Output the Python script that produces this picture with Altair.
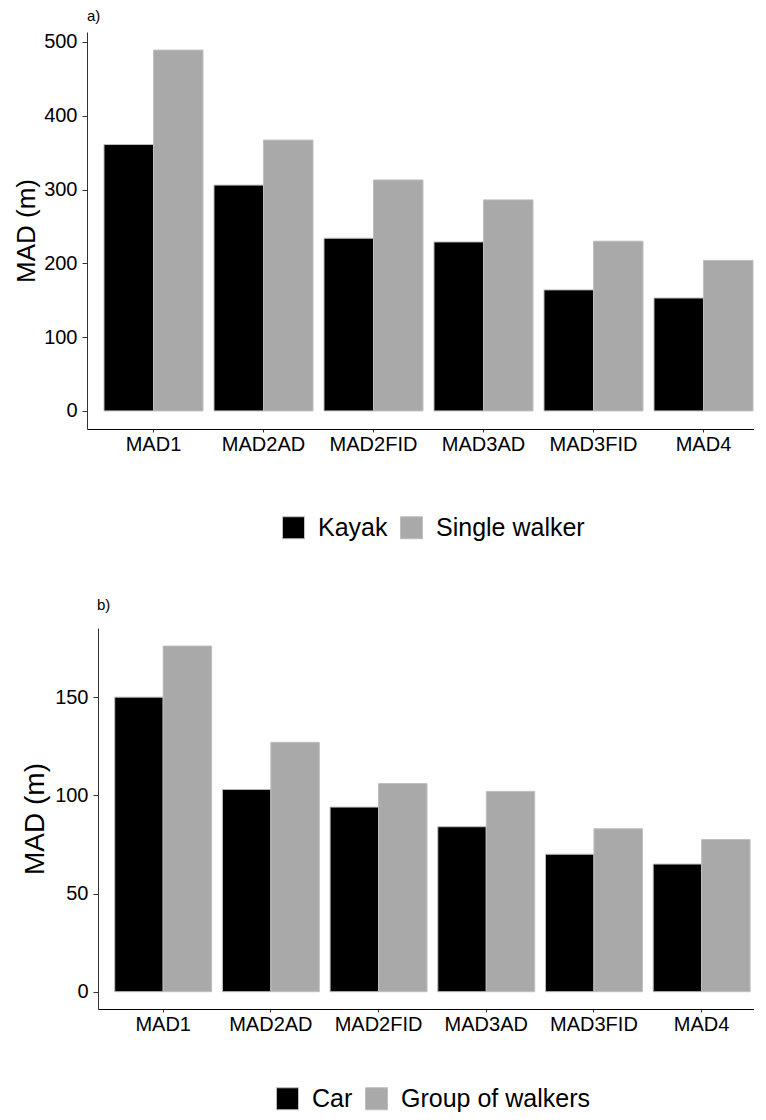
import altair as alt
import pandas as pd

FONT = "Liberation Sans"

categories = ["MAD1", "MAD2AD", "MAD2FID", "MAD3AD", "MAD3FID", "MAD4"]

# panel a
series_a = ["Kayak", "Single walker"]
kayak = [361, 306, 234, 229, 164, 153]
single_walker = [489, 367, 313, 286, 230, 204]

# panel b
series_b = ["Car", "Group of walkers"]
car = [150, 103, 94, 84, 70, 65]
group_walkers = [176, 127, 106, 102, 83, 77.5]

ticks_a = [0, 100, 200, 300, 400, 500]
ticks_b = [0, 50, 100, 150]

df_a = pd.DataFrame({
    "category": categories * 2,
    "series": [series_a[0]] * 6 + [series_a[1]] * 6,
    "value": kayak + single_walker,
})
df_b = pd.DataFrame({
    "category": categories * 2,
    "series": [series_b[0]] * 6 + [series_b[1]] * 6,
    "value": car + group_walkers,
})

FILLS = ["#000000", "#A9A9A9"]
WIDTH = 667


def panel(df, series, ticks, ydom, label, height, pad_outer, align, x_start,
          title_offset, legend_x, legend_y, title_size, title_dx, title_pad):
    return alt.Chart(df).mark_bar(stroke="#BEBEBE", strokeWidth=1).encode(
        x=alt.X("category:N", sort=categories, title=None,
                scale=alt.Scale(paddingInner=0.1, paddingOuter=pad_outer,
                                align=align, range=[x_start, WIDTH]),
                axis=alt.Axis(labelAngle=0, labelFontSize=20, labelColor="#000",
                              tickSize=3, labelPadding=2, domainColor="#000",
                              tickColor="#333", labelFont=FONT)),
        xOffset=alt.XOffset("series:N", sort=series,
                            scale=alt.Scale(paddingInner=0, paddingOuter=0)),
        y=alt.Y("value:Q", title="MAD (m)",
                scale=alt.Scale(domain=ydom, nice=False, zero=False),
                axis=alt.Axis(values=ticks, grid=False, labelFontSize=20,
                              labelColor="#000", tickSize=5, labelPadding=5,
                              domainColor="#333", tickColor="#333",
                              offset=-x_start,
                              titleFontSize=title_size, titleFontWeight="normal",
                              titleColor="#000", titlePadding=title_pad,
                              labelFont=FONT, titleFont=FONT)),
        y2=alt.datum(0),
        color=alt.Color("series:N", sort=series,
                        scale=alt.Scale(domain=series, range=FILLS),
                        legend=alt.Legend(title=None, orient="none",
                                          direction="horizontal",
                                          legendX=legend_x, legendY=legend_y,
                                          symbolType="square", symbolSize=484,
                                          symbolStrokeColor="#BEBEBE",
                                          symbolStrokeWidth=1,
                                          labelFontSize=25, labelColor="#000",
                                          labelFont=FONT, labelOffset=12,
                                          labelLimit=400,
                                          columnPadding=10)),
    ).properties(
        width=WIDTH, height=height,
        title=alt.TitleParams(label, anchor="start", frame="group", fontSize=15,
                              fontWeight="normal", font=FONT, color="#000",
                              offset=title_offset, dx=title_dx),
    )


top = panel(df_a, series_a, ticks_a, [-24.5, 513.5], "a)", 397,
            0.0818, 0.944, 0, 8, 194, 483, 26, 0, 4)
bottom = panel(df_b, series_b, ticks_b, [-8.8, 185.2], "b)", 381,
               0.0956, 0.811, 11, 15, 188, 458, 28, 10, 5)

chart = alt.concat(top, bottom, columns=1, spacing=57, align="none").resolve_scale(
    color="independent", xOffset="independent", x="independent", y="independent"
).properties(
    padding={"left": 5, "top": 0, "right": 0, "bottom": 0}
).configure(font=FONT).configure_view(stroke=None)

chart.save("out.html", embed_options={"renderer": "svg", "actions": False})
